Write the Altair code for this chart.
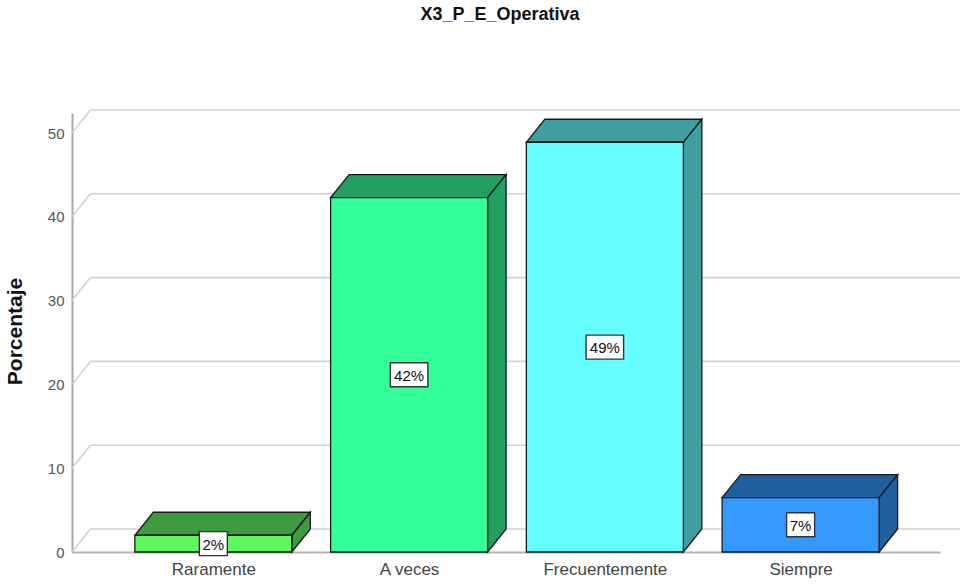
import json
import altair as alt
import pandas as pd

# ---- data ----
categories = ["Raramente", "A veces", "Frecuentemente", "Siempre"]
percent = [2.0, 42.3, 48.9, 6.5]
labels = ["2%", "42%", "49%", "7%"]
front_colors = ["#60F660", "#33FF99", "#66FFFF", "#3399FF"]
dark_colors = ["#3E9A3E", "#229E60", "#3F9F9F", "#1F5F9F"]
y_ticks = [0, 10, 20, 30, 40, 50]

# ---- geometry / style ----
W, H = 868, 439
X_DOM = [-0.722, 3.712]
Y_DOM = [0, 52.39]
PXX = W / (X_DOM[1] - X_DOM[0])
PXY = H / (Y_DOM[1] - Y_DOM[0])
DX = 18.5 / PXX          # depth offset (x) in data units
DY = 23 / PXY            # depth offset (y) in data units
HALF = 0.401             # half bar width in category units
X_RIGHT = X_DOM[0] + 888 / PXX
FONT = "Liberation Sans"
EDGE = "#1a1a1a"

xs = alt.Scale(domain=X_DOM, nice=False, zero=False)
ys = alt.Scale(domain=Y_DOM, nice=False, zero=False)

# ---- tables ----
front_rows, top_rows, side_rows, lab_rows = [], [], [], []
for i, (c, v, lab, fc, dc) in enumerate(zip(categories, percent, labels, front_colors, dark_colors)):
    x0, x1 = i - HALF, i + HALF
    front_rows.append(dict(cat=c, x0=x0, x1=x1, y0=0, y1=v, col=fc))
    top_rows += [dict(cat=c, yy=v, xa=x0, xb=x1, col=dc),
                 dict(cat=c, yy=v + DY, xa=x0 + DX, xb=x1 + DX, col=dc)]
    side_rows += [dict(cat=c, xx=x1, ya=0, yb=v, col=dc),
                  dict(cat=c, xx=x1 + DX, ya=DY, yb=v + DY, col=dc)]
    bw = (9.5 * len(lab) + 9) / 2 / PXX
    bh = 12 / PXY
    lab_rows.append(dict(cat=c, xc=i, yc=v / 2, bx0=i - bw, bx1=i + bw,
                         by0=v / 2 - bh, by1=v / 2 + bh, lab=lab))

front = pd.DataFrame(front_rows)
top = pd.DataFrame(top_rows)
side = pd.DataFrame(side_rows)
labs = pd.DataFrame(lab_rows)

grid_rows, diag_rows = [], []
for t in y_ticks:
    grid_rows.append(dict(gx0=X_DOM[0] + DX, gx1=X_RIGHT, gy=t + DY))
    diag_rows.append(dict(dx0=X_DOM[0], dx1=X_DOM[0] + DX, dy0=t, dy1=t + DY))
grid = pd.DataFrame(grid_rows)
diag = pd.DataFrame(diag_rows)

label_expr = json.dumps(categories) + "[datum.value]"

x_axis = alt.Axis(values=[0, 1, 2, 3], labelExpr=label_expr, ticks=False, grid=False,
                  domainColor="#b4b4b4", domainWidth=2, labelFontSize=17, labelColor="#444444",
                  labelPadding=9, labelFont=FONT, title=None)
y_axis = alt.Axis(values=y_ticks, ticks=False, grid=False, domainColor="#a8a8a8", domainWidth=2,
                  labelFontSize=15, labelColor="#555555", labelPadding=8, labelFont=FONT,
                  title="Porcentaje", titleFontSize=21, titleFontWeight="bold", titleFont=FONT,
                  titleColor="#111111", titleAngle=-90, titleX=-57, titleY=218,
                  titleAlign="center", titleBaseline="middle")


def X(f, **kw):
    return alt.X(f, scale=xs, axis=x_axis, **kw)


def Y(f, **kw):
    return alt.Y(f, scale=ys, axis=y_axis, **kw)


grid_layer = alt.Chart(grid).mark_rule(color="#d2d2d2", strokeWidth=1.6).encode(
    x=X("gx0:Q"), x2="gx1:Q", y=Y("gy:Q"), y2="gy:Q")

diag_layer = alt.Chart(diag).mark_rule(color="#d2d2d2", strokeWidth=1.6).encode(
    x=X("dx0:Q"), x2="dx1:Q", y=Y("dy0:Q"), y2="dy1:Q")

top_layer = alt.Chart(top).mark_area(orient="horizontal", stroke=EDGE, strokeWidth=1.3,
                                     strokeJoin="miter", opacity=1).encode(
    y=Y("yy:Q", stack=None), x=X("xa:Q", stack=None), x2="xb:Q",
    color=alt.Color("col:N", scale=None), detail="cat:N")

side_layer = alt.Chart(side).mark_area(orient="vertical", stroke=EDGE, strokeWidth=1.3,
                                       strokeJoin="miter", opacity=1).encode(
    x=X("xx:Q", stack=None), y=Y("ya:Q", stack=None), y2="yb:Q",
    color=alt.Color("col:N", scale=None), detail="cat:N")

front_layer = alt.Chart(front).mark_rect(stroke=EDGE, strokeWidth=1.3).encode(
    x=X("x0:Q"), x2="x1:Q", y=Y("y0:Q"), y2="y1:Q",
    color=alt.Color("col:N", scale=None))

box_layer = alt.Chart(labs).mark_rect(fill="white", stroke="#333333", strokeWidth=1.4).encode(
    x=X("bx0:Q"), x2="bx1:Q", y=Y("by0:Q"), y2="by1:Q")

text_layer = alt.Chart(labs).mark_text(font=FONT, fontSize=15, color="#111111",
                                       align="center", baseline="middle", dy=1).encode(
    x=X("xc:Q"), y=Y("yc:Q"), text="lab:N")

chart = alt.layer(grid_layer, diag_layer, top_layer, side_layer, front_layer,
                  box_layer, text_layer).properties(
    width=W, height=H,
    autosize=alt.AutoSizeParams(type="none"),
    padding={"left": 72, "top": 113, "right": 20, "bottom": 32},
    title=alt.TitleParams("X3_P_E_Operativa", fontSize=18, fontWeight="bold", font=FONT,
                          color="#111111", anchor="middle", frame="group", offset=85, dx=-6),
    background="white",
).configure_view(strokeWidth=0)

chart.save("out.html", embed_options={"renderer": "svg", "actions": False})
